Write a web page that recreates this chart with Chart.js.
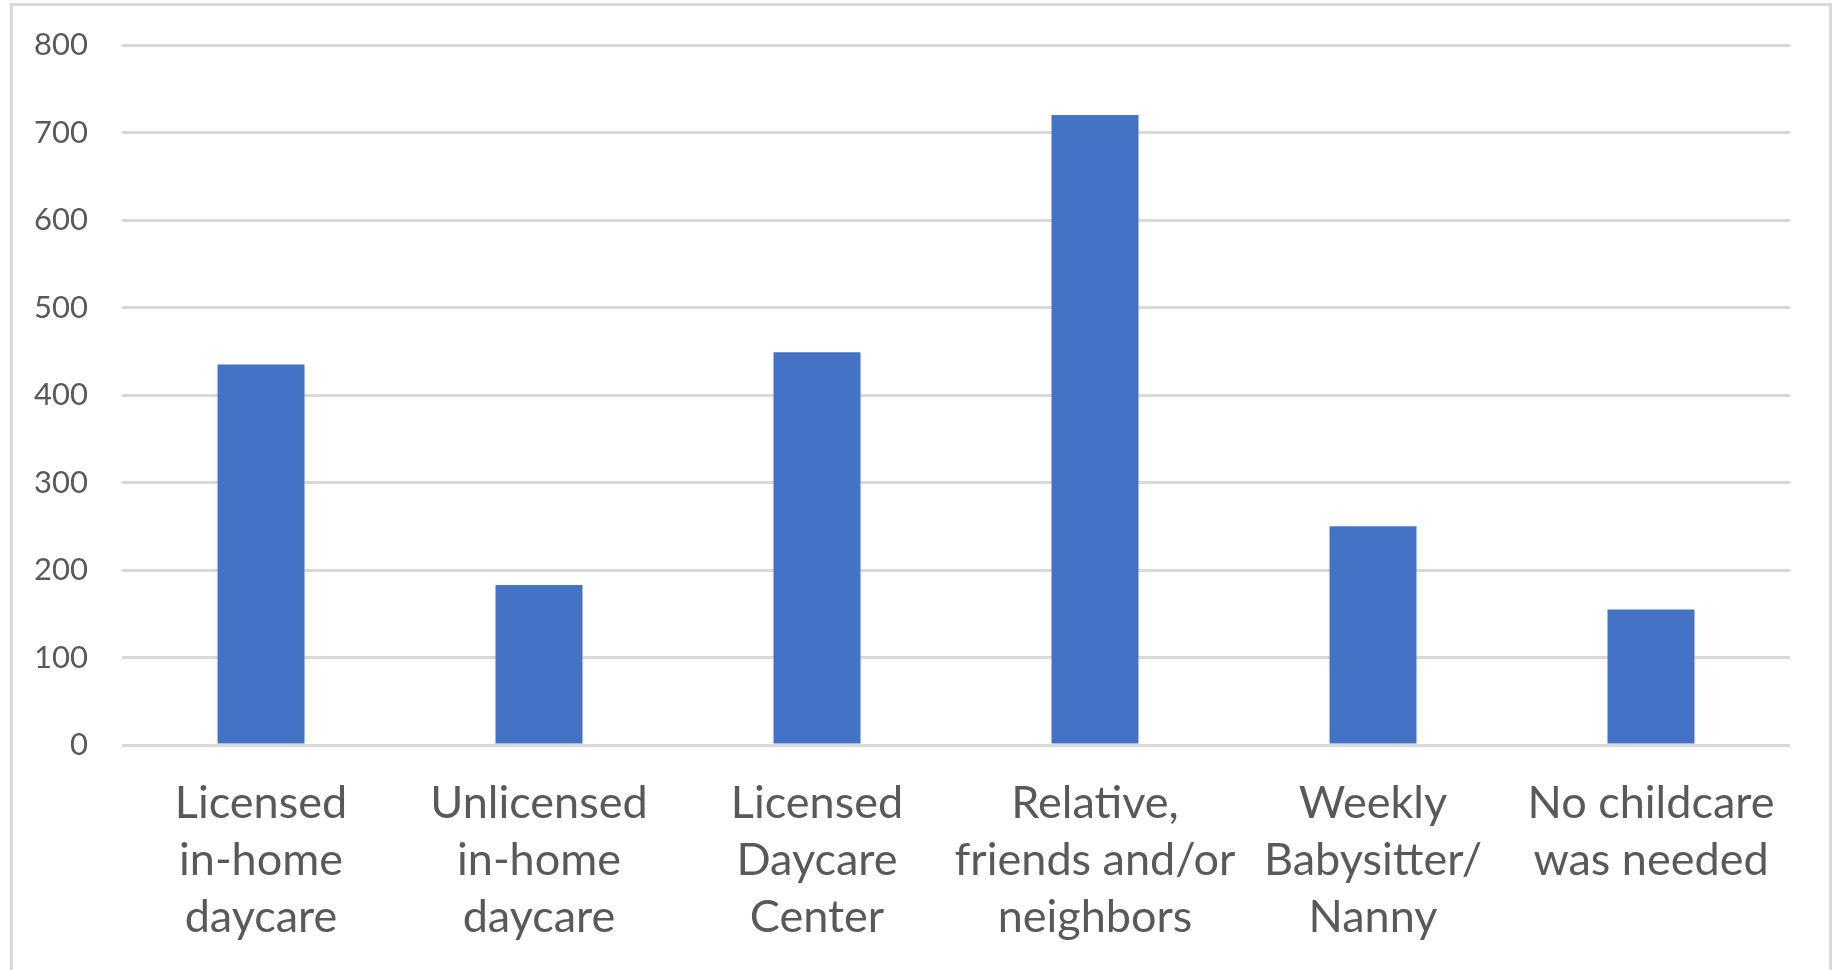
<!DOCTYPE html>
<html>
<head>
<meta charset="utf-8">
<script src="https://cdn.jsdelivr.net/npm/chart.js@4/dist/chart.umd.min.js"></script>
<style>
  html, body { margin: 0; padding: 0; background: #fff; width: 1832px; height: 970px; overflow: hidden; }
  #frame { position: absolute; left: 10px; top: 3px; width: 1816px; height: 1000px;
           border: 3px solid #d9d9d9; border-bottom: none; }
  #wrap { position: absolute; left: 0; top: 0; width: 1832px; height: 970px; }
</style>
</head>
<body>
<div id="frame"></div>
<div id="wrap"><canvas id="c" width="1832" height="970"></canvas></div>
<script>
// Type of childcare used (multi-line category labels)
const categories = [
  ["Licensed", "in-home", "daycare"],
  ["Unlicensed", "in-home", "daycare"],
  ["Licensed", "Daycare", "Center"],
  ["Relative,", "friends and/or", "neighbors"],
  ["Weekly", "Babysitter/", "Nanny"],
  ["No childcare", "was needed"]
];

// Number of responses per childcare type
const responses = [435, 183, 449, 720, 250, 155];

// Value axis ticks
const yTicks = [0, 100, 200, 300, 400, 500, 600, 700, 800];

const labelColor = '#595959';
const gridColor = '#d9d9d9';
const barColor = '#4472c4';

new Chart(document.getElementById('c'), {
  type: 'bar',
  data: {
    labels: categories,
    datasets: [{
      data: responses,
      backgroundColor: barColor,
      borderWidth: 0,
      categoryPercentage: 1,
      barPercentage: 0.313
    }]
  },
  options: {
    responsive: false,
    animation: false,
    devicePixelRatio: 1,
    layout: { padding: { top: 45, right: 42, left: 0, bottom: 0 } },
    plugins: { legend: { display: false }, tooltip: { enabled: false }, title: { display: false } },
    scales: {
      x: {
        grid: { display: false, drawTicks: false },
        border: { display: false },
        ticks: {
          color: labelColor,
          font: { family: 'Lato', size: 45, lineHeight: 1.267 },
          padding: 30,
          maxRotation: 0,
          minRotation: 0,
          autoSkip: false
        },
        afterFit: s => { s.height = 225; s.paddingTop = 0; s.paddingBottom = 0; }
      },
      y: {
        min: yTicks[0],
        max: yTicks[yTicks.length - 1],
        afterBuildTicks: axis => { axis.ticks = yTicks.map(v => ({ value: v })); },
        grid: { color: gridColor, lineWidth: 3, drawTicks: false },
        border: { display: false },
        ticks: {
          color: labelColor,
          font: { family: 'Lato', size: 31 },
          padding: 34
        },
        afterFit: s => { s.width = 122; s.paddingTop = 0; s.paddingBottom = 0; }
      }
    }
  }
});
</script>
</body>
</html>
